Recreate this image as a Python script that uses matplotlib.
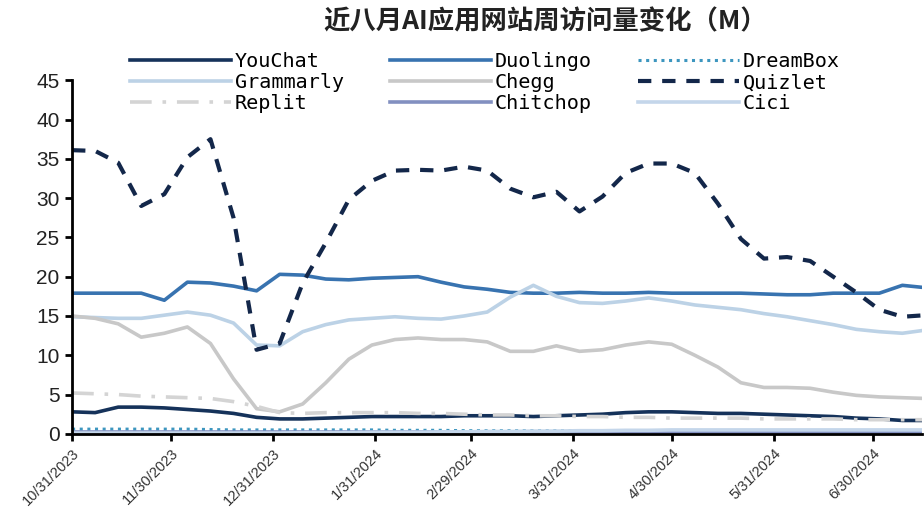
import datetime as dt
import matplotlib
matplotlib.use('Agg')
import matplotlib.pyplot as plt

plt.rcParams['font.family'] = ['Noto Sans CJK SC', 'DejaVu Sans']

# weekly points from 10/31/2023
start = dt.date(2023, 10, 31)
dates = [start + dt.timedelta(days=7 * i) for i in range(38)]

youchat = [2.8, 2.7, 3.4, 3.4, 3.3, 3.1, 2.9, 2.6, 2.1, 1.9, 1.9, 2.0, 2.1, 2.2, 2.2, 2.2, 2.2, 2.3, 2.3,
           2.3, 2.2, 2.3, 2.4, 2.5, 2.7, 2.8, 2.8, 2.7, 2.6, 2.6, 2.5, 2.4, 2.3, 2.2, 2.0, 1.9, 1.7, 1.7]
duolingo = [17.9, 17.9, 17.9, 17.9, 17.0, 19.3, 19.2, 18.8, 18.2, 20.3, 20.2, 19.7, 19.6, 19.8, 19.9, 20.0,
            19.3, 18.7, 18.4, 18.0, 17.9, 17.9, 18.0, 17.9, 17.9, 18.0, 17.9, 17.9, 17.9, 17.9, 17.8, 17.7,
            17.7, 17.9, 17.9, 17.9, 18.9, 18.6]
dreambox = [0.6, 0.6, 0.6, 0.6, 0.6, 0.6, 0.55, 0.5, 0.5, 0.5, 0.5, 0.5, 0.5, 0.5, 0.45, 0.45, 0.45, 0.4,
            0.4, 0.4, 0.4, 0.4, 0.4, 0.4, 0.4, 0.35, 0.35, 0.35, 0.35, 0.35, 0.35, 0.35, 0.35, 0.35, 0.35,
            0.35, 0.35, 0.35]
grammarly = [14.9, 14.8, 14.7, 14.7, 15.1, 15.5, 15.1, 14.1, 11.3, 11.2, 13.0, 13.9, 14.5, 14.7, 14.9, 14.7,
             14.6, 15.0, 15.5, 17.4, 18.9, 17.5, 16.7, 16.6, 16.9, 17.3, 16.9, 16.4, 16.1, 15.8, 15.3, 14.9,
             14.4, 13.9, 13.3, 13.0, 12.8, 13.2]
chegg = [15.0, 14.7, 14.0, 12.3, 12.8, 13.6, 11.5, 7.0, 3.2, 2.8, 3.8, 6.5, 9.5, 11.3, 12.0, 12.2, 12.0,
         12.0, 11.7, 10.5, 10.5, 11.2, 10.5, 10.7, 11.3, 11.7, 11.4, 10.0, 8.5, 6.5, 5.9, 5.9, 5.8, 5.3,
         4.9, 4.7, 4.6, 4.5]
quizlet = [36.1, 36.0, 34.5, 29.0, 30.5, 35.2, 37.5, 27.5, 10.7, 11.5, 19.2, 24.3, 29.8, 32.2, 33.5, 33.6,
           33.5, 34.0, 33.5, 31.2, 30.1, 30.8, 28.3, 30.2, 33.2, 34.4, 34.4, 33.2, 29.3, 24.8, 22.3, 22.5,
           22.0, 20.0, 18.0, 15.8, 14.9, 15.1]
replit = [5.2, 5.1, 5.0, 4.8, 4.7, 4.6, 4.5, 4.1, 3.5, 2.7, 2.6, 2.7, 2.7, 2.7, 2.7, 2.6, 2.6, 2.5, 2.4,
          2.4, 2.3, 2.3, 2.2, 2.2, 2.1, 2.1, 2.0, 2.0, 2.0, 2.0, 1.9, 1.9, 1.9, 1.9, 1.8, 1.8, 1.8, 1.8]
chitchop = [0.2] * 38
cici = [0.1, 0.1, 0.1, 0.1, 0.1, 0.1, 0.1, 0.1, 0.1, 0.1, 0.15, 0.15, 0.15, 0.2, 0.2, 0.2, 0.25, 0.25,
        0.3, 0.3, 0.35, 0.35, 0.4, 0.4, 0.45, 0.45, 0.5, 0.5, 0.5, 0.5, 0.5, 0.5, 0.5, 0.5, 0.5, 0.5,
        0.5, 0.5]

tick_dates = [dt.date(2023, 10, 31), dt.date(2023, 11, 30), dt.date(2023, 12, 31), dt.date(2024, 1, 31),
              dt.date(2024, 2, 29), dt.date(2024, 3, 31), dt.date(2024, 4, 30), dt.date(2024, 5, 31),
              dt.date(2024, 6, 30)]
tick_labels = ['10/31/2023', '11/30/2023', '12/31/2023', '1/31/2024', '2/29/2024', '3/31/2024',
               '4/30/2024', '5/31/2024', '6/30/2024']

fig = plt.figure(figsize=(9.24, 5.11), dpi=100)
ax = fig.add_axes([0.078, 0.151, 0.92, 0.692])

l1, = ax.plot(dates, youchat, color='#15325a', lw=2.6)
l2, = ax.plot(dates, duolingo, color='#3873b0', lw=2.6)
l3, = ax.plot(dates, dreambox, color='#3d96bf', lw=2.2, linestyle=(0, (1, 1.5)))
l4, = ax.plot(dates, grammarly, color='#bcd2e6', lw=2.6)
l5, = ax.plot(dates, chegg, color='#c8c8c8', lw=2.6)
l7, = ax.plot(dates, replit, color='#d4d4d4', lw=2.6, linestyle=(0, (6, 3, 1, 3)))
l8, = ax.plot(dates, chitchop, color='#8290c0', lw=2.6)
l9, = ax.plot(dates, cici, color='#c4d6ea', lw=2.6)
l6, = ax.plot(dates, quizlet, color='#13274a', lw=3.0, linestyle=(0, (3.2, 2.6)))

ax.set_ylim(0, 45)
ax.set_yticks(range(0, 50, 5))
ax.set_xlim(dt.date(2023, 10, 31), dt.date(2024, 7, 15))
ax.set_xticks(tick_dates)
ax.set_xticklabels(tick_labels, rotation=45, ha='right', rotation_mode='anchor',
                   fontsize=10.5, color='#333333', family='Liberation Sans')
for lab in ax.get_yticklabels():
    lab.set_family('Liberation Sans')
    lab.set_fontsize(15)
    lab.set_color('#222222')

for s in ['top', 'right']:
    ax.spines[s].set_visible(False)
for s in ['left', 'bottom']:
    ax.spines[s].set_linewidth(2)
    ax.spines[s].set_color('black')
ax.tick_params(axis='both', width=2, length=5, direction='out', pad=4)

fig.text(0.59, 0.958, '近八月AI应用网站周访问量变化（M）', ha='center', va='center',
         fontsize=19, fontweight='bold', color='#222222')

handles = [l1, l2, l3, l4, l5, l6, l7, l8, l9]
names = ['YouChat', 'Duolingo', 'DreamBox', 'Grammarly', 'Chegg', 'Quizlet', 'Replit', 'Chitchop', 'Cici']
# legend is filled row by row in the reference
order = [0, 3, 6, 1, 4, 7, 2, 5, 8]
fig.legend([handles[i] for i in order], [names[i] for i in order], ncol=3,
           loc='center', bbox_to_anchor=(0.525, 0.838), frameon=False,
           prop={'family': 'DejaVu Sans Mono', 'size': 14.5},
           handlelength=5.0, handletextpad=0.2, columnspacing=2.3,
           labelspacing=0.1, borderpad=0)

fig.savefig('out.png', dpi=100)
